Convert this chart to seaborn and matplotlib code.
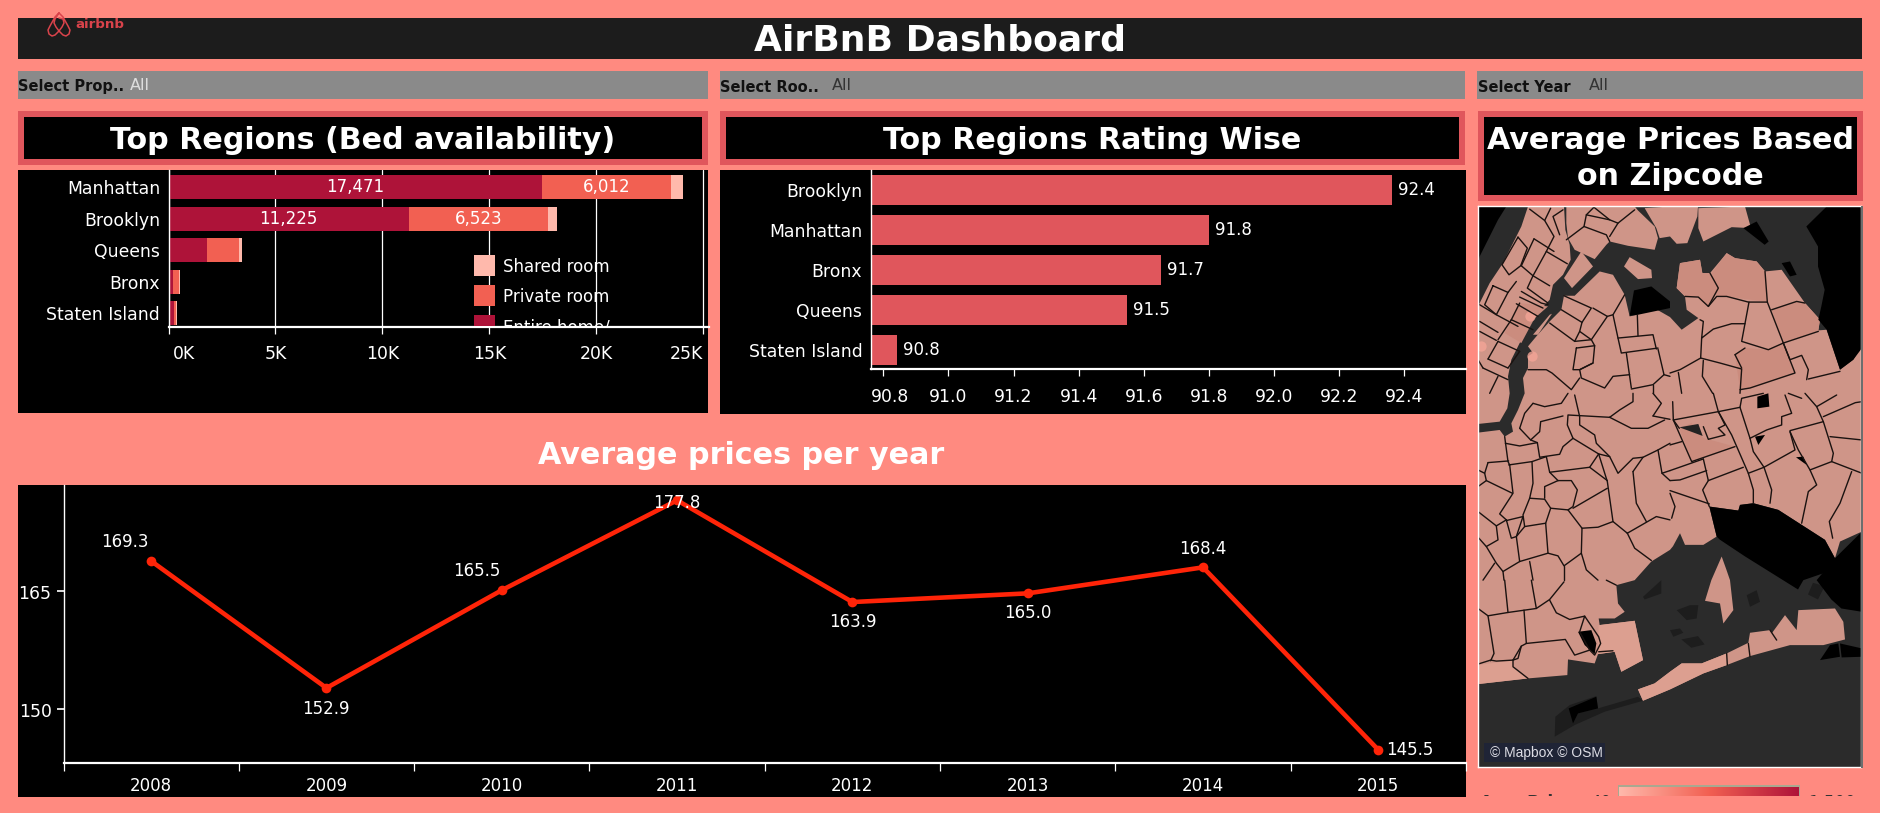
import numpy as np
import seaborn as sns
import matplotlib.pyplot as plt
from matplotlib.colors import LinearSegmentedColormap
from matplotlib.patches import Rectangle
from matplotlib.transforms import Bbox, ScaledTranslation

# chart data
regions_beds = ['Manhattan', 'Brooklyn', 'Queens', 'Bronx', 'Staten Island']
entire_home = [17471, 11225, 1800, 200, 260]
private_room = [6012, 6523, 1480, 310, 100]
shared_room = [550, 410, 150, 20, 15]
bed_ticks = [0, 5000, 10000, 15000, 20000, 25000]
bed_tick_labels = ['0K', '5K', '10K', '15K', '20K', '25K']

regions_rating = ['Brooklyn', 'Manhattan', 'Bronx', 'Queens', 'Staten Island']
rating = [92.362, 91.8, 91.653, 91.548, 90.842]
rating_ticks = [90.8, 91.0, 91.2, 91.4, 91.6, 91.8, 92.0, 92.2, 92.4]

years = [2008, 2009, 2010, 2011, 2012, 2013, 2014, 2015]
avg_price = [168.8, 152.7, 165.1, 176.5, 163.6, 164.7, 168.0, 144.85]
avg_price_labels = ['169.3', '152.9', '165.5', '177.8', '163.9', '165.0', '168.4', '145.5']
avg_price_offsets = [(-26, -19), (-1, 21), (-25, -19), (0, 3), (0, 20), (0, 20), (0, -18), (31, 0)]

# map shapes
map_land = [
    [(150, 0), (258, 0), (262, 70), (275, 115), (278, 160), (255, 205), (225, 235), (215, 280), (170, 330),
     (125, 410), (100, 460), (90, 510), (95, 561), (88, 606), (65, 646), (0, 653), (0, 300), (35, 230),
     (75, 170), (115, 90), (130, 60)],
    [(265, 0), (470, 0), (480, 12), (530, 60), (540, 95), (530, 130), (450, 118), (395, 105), (385, 115),
     (350, 158), (290, 130), (270, 95), (265, 50)],
    [(500, 5), (576, 0), (660, 0), (658, 30), (628, 110), (596, 112), (576, 90), (545, 95), (535, 65)],
    [(661, 5), (801, 0), (819, 65), (761, 62), (676, 105), (661, 65)],
    [(438, 180), (455, 152), (520, 190), (522, 215), (480, 218)],
    [(258, 215), (310, 135), (345, 180), (282, 245)],
    [(165, 385), (215, 325), (222, 322), (180, 385)],
    [(0, 679), (65, 671), (80, 691), (105, 676), (100, 651), (120, 611), (140, 561), (135, 515), (150, 485),
     (150, 450), (165, 440), (150, 420), (175, 390), (215, 345), (250, 310), (258, 268), (290, 268), (365, 195),
     (405, 205), (440, 265), (455, 330), (478, 325), (520, 300), (576, 332), (611, 370), (661, 335), (626, 310),
     (621, 270), (596, 245), (606, 170), (666, 160), (673, 200), (696, 200), (746, 140), (771, 155), (836, 165),
     (861, 195), (911, 190), (981, 290), (1026, 340), (1021, 372), (1046, 370), (1086, 490), (1126, 460),
     (1146, 425), (1152, 420), (1152, 976), (1086, 1006), (1071, 1056), (1041, 1001), (901, 911), (826, 891),
     (786, 896), (781, 913), (694, 901), (716, 991), (676, 1016), (621, 1016), (606, 981), (585, 1020),
     (576, 1031), (520, 1066), (470, 1122), (415, 1137), (420, 1192), (440, 1217), (410, 1237), (362, 1237),
     (365, 1257), (470, 1244), (495, 1362), (430, 1397), (410, 1337), (360, 1344), (350, 1372), (270, 1360),
     (268, 1407), (150, 1417), (0, 1434)],
    [(731, 1051), (745, 1090), (756, 1122), (766, 1212), (736, 1252), (726, 1192), (681, 1184), (700, 1122)],
    [(480, 1450), (530, 1432), (576, 1397), (611, 1372), (671, 1372), (746, 1342), (811, 1310), (816, 1280),
     (876, 1272), (896, 1302), (881, 1282), (921, 1227), (956, 1272), (961, 1212), (1071, 1207), (1096, 1247),
     (1101, 1300), (1036, 1317), (936, 1317), (816, 1350), (746, 1377), (676, 1402), (576, 1450), (495, 1484)],
]
map_dark_zips = [
    [(701, 200), (746, 140), (771, 155), (836, 165), (861, 195), (868, 287), (746, 270), (716, 270)],
    [(881, 310), (956, 285), (981, 290), (1026, 340), (1021, 372), (916, 410)],
    [(596, 245), (606, 170), (666, 160), (673, 200), (696, 200), (721, 245), (691, 300), (661, 272), (621, 270)],
    [(604, 666), (641, 650), (676, 695), (771, 721), (641, 766)],
    [(771, 445), (801, 425), (871, 430), (916, 410), (951, 500), (816, 545), (786, 550)],
    [(100, 340), (125, 290), (210, 300), (170, 335), (130, 410), (80, 380)],
]
map_light_zips = [
    [(0, 1377), (105, 1362), (105, 1382), (150, 1417), (0, 1434)],
    [(362, 1257), (470, 1244), (495, 1362), (430, 1397), (410, 1337), (360, 1344)],
    [(480, 1450), (530, 1432), (576, 1397), (611, 1372), (671, 1372), (746, 1342), (746, 1377), (676, 1402),
     (576, 1450), (495, 1484)],
]
map_black = [
    [(0, 0), (85, 0), (60, 40), (5, 150), (0, 170)],
    [(985, 60), (1046, 0), (1152, 0), (1152, 425), (1126, 460), (1086, 490), (1046, 370), (1021, 340), (1030, 300),
     (1040, 250), (1020, 180), (1020, 120)],
    [(694, 901), (781, 913), (786, 896), (826, 891), (901, 911), (1041, 1001), (1071, 1056), (1066, 1091),
     (976, 1122), (960, 1150), (880, 1100), (800, 1050), (725, 1000), (716, 991)],
    [(1071, 1056), (1152, 976), (1152, 1217), (1090, 1207), (1060, 1180), (1016, 1122)],
    [(1026, 1362), (1056, 1317), (1081, 1312), (1086, 1352)],
    [(1086, 1312), (1152, 1327), (1152, 1352), (1091, 1354)],
    [(455, 328), (468, 252), (520, 240), (576, 285), (576, 305), (480, 325)],
    [(796, 65), (836, 45), (872, 105), (860, 115)],
    [(911, 170), (936, 165), (956, 205), (936, 210)],
    [(838, 571), (871, 561), (874, 601), (838, 606)],
    [(831, 691), (861, 686), (841, 716)],
    [(954, 753), (976, 751), (986, 776)],
    [(272, 1507), (355, 1472), (360, 1507), (300, 1522), (285, 1552)],
    [(300, 1277), (340, 1272), (355, 1312), (350, 1344), (320, 1317)],
]
map_shadow = [
    [(230, 1592), (232, 1532), (275, 1497), (355, 1470), (360, 1507), (480, 1472), (495, 1484), (380, 1517), (290, 1557)],
    [(495, 1172), (550, 1122), (550, 1162), (500, 1180)],
    [(576, 1272), (606, 1267), (616, 1280), (586, 1292)],
    [(1005, 1130), (1040, 1140), (1020, 1180), (990, 1165)],
    [(596, 1212), (636, 1197), (661, 1197), (656, 1237), (626, 1242)],
    [(806, 1167), (836, 1152), (846, 1187), (816, 1202)],
    [(610, 1300), (660, 1290), (680, 1315), (640, 1325)],
]
map_grey_bits = [
    [(604, 663), (661, 653), (674, 689)],
]
map_hot_spots = [(155, 328), (10, 418), (162, 450)]

map_lines_nw = [
    [(155, 8), (200, 42), (228, 90), (205, 135), (268, 172)],
    [(200, 42), (218, 5)], [(245, 85), (225, 30), (255, 10)],
    [(120, 92), (148, 125), (128, 178), (93, 205), (72, 175), (120, 92)],
    [(168, 97), (228, 135)], [(168, 97), (130, 178)], [(130, 178), (165, 208), (215, 238)],
    [(205, 135), (165, 208), (148, 245), (210, 290)],
    [(45, 238), (90, 258), (55, 325), (20, 295), (45, 238)],
    [(5, 295), (55, 325), (120, 360)],
    [(130, 255), (190, 290), (210, 295)], [(125, 272), (195, 305)], [(115, 292), (180, 330)],
    [(100, 340), (165, 370)], [(100, 340), (125, 290)], [(60, 400), (100, 340)],
    [(5, 345), (60, 378)], [(5, 375), (55, 402)], [(60, 405), (125, 435)], [(30, 458), (60, 405)],
    [(30, 458), (90, 485)], [(90, 485), (125, 435)], [(15, 485), (90, 520)], [(60, 510), (35, 561)],
    [(0, 460), (15, 485)], [(90, 258), (115, 225)],
    [(258, 268), (340, 305), (312, 348), (250, 310)], [(345, 305), (388, 330), (340, 400), (305, 375), (312, 348)],
    [(305, 375), (290, 405), (215, 350)],
    [(295, 425), (350, 418), (345, 470), (305, 490), (285, 490), (295, 425)],
    [(340, 400), (350, 418)], [(290, 405), (340, 400)],
    [(388, 330), (405, 325), (440, 265)], [(405, 325), (420, 395), (430, 440), (540, 425)],
    [(420, 395), (525, 385), (535, 428)], [(480, 388), (478, 325)], [(445, 440), (460, 545)],
    [(540, 428), (558, 505), (525, 535), (460, 548)], [(345, 470), (305, 490), (310, 515), (380, 545), (405, 510), (455, 505)],
    [(525, 535), (525, 561)], [(305, 515), (280, 550), (222, 500), (205, 490), (150, 490)], [(558, 505), (576, 510)],
    [(265, 100), (318, 60), (385, 85), (395, 105)], [(318, 60), (325, 25), (395, 40), (420, 50), (395, 90)],
    [(325, 25), (350, 0)], [(395, 40), (345, 0)], [(420, 50), (470, 10)],
]
map_lines_ne = [
    [(45, 270), (85, 272), (115, 300), (145, 245), (120, 200)],
    [(115, 300), (140, 270), (170, 270), (235, 287), (292, 287)], [(285, 195), (292, 287), (340, 410)],
    [(237, 287), (215, 405), (295, 430), (340, 410)], [(340, 410), (375, 500), (240, 545), (210, 550)],
    [(305, 310), (380, 285), (405, 290)], [(340, 410), (445, 375)],
    [(340, 410), (360, 460), (395, 447), (415, 490), (410, 520)], [(415, 518), (510, 495)],
    [(90, 340), (100, 345), (95, 395), (130, 368), (185, 352), (225, 352)],
    [(95, 395), (92, 455), (30, 490), (0, 500)], [(92, 455), (150, 470), (215, 488), (210, 561)],
    [(195, 445), (225, 425)], [(195, 445), (215, 485)], [(100, 462), (97, 510), (128, 561)], [(25, 498), (35, 561)],
]
map_lines_mw = [
    [(80, 130), (90, 205), (95, 215)],
    [(82, 150), (125, 158), (178, 148), (185, 192), (245, 183), (255, 160), (285, 135), (268, 95), (270, 65), (395, 72)],
    [(125, 105), (158, 140), (185, 115), (188, 85), (255, 68)], [(178, 148), (158, 140)],
    [(92, 215), (162, 205), (205, 190), (215, 237), (335, 222), (362, 182)], [(285, 135), (362, 182)], [(335, 222), (388, 262)],
    [(30, 208), (92, 203)], [(30, 208), (20, 240), (25, 262), (103, 300)], [(0, 230), (20, 240)], [(25, 262), (0, 280)],
    [(162, 205), (165, 270), (155, 315), (200, 318), (218, 345), (270, 350), (312, 405), (360, 402), (405, 385),
     (388, 265), (362, 182), (395, 190), (420, 240), (465, 195), (495, 192), (540, 170), (576, 150)],
    [(95, 215), (105, 300), (65, 362), (85, 380), (100, 435), (115, 430), (135, 370), (85, 382)],
    [(155, 315), (135, 365), (140, 400), (203, 390), (218, 345)], [(203, 390), (210, 480), (125, 505), (115, 430), (140, 400)],
    [(85, 380), (55, 398), (60, 440), (25, 460), (0, 432)], [(55, 398), (0, 355)], [(25, 460), (55, 510), (75, 535), (125, 505)],
    [(75, 535), (78, 561)], [(210, 480), (240, 488), (258, 518), (310, 480), (312, 405)], [(258, 518), (258, 561)],
    [(310, 480), (325, 530), (360, 561)], [(155, 505), (165, 561)],
    [(240, 262), (280, 262), (298, 290), (285, 340), (270, 350)], [(240, 262), (200, 280), (200, 315)], [(215, 237), (240, 262)],
    [(285, 345), (388, 285)], [(405, 385), (448, 420)], [(448, 420), (535, 370), (576, 380)], [(448, 420), (470, 465), (520, 502)],
    [(465, 235), (475, 330), (505, 385)], [(465, 235), (495, 192)], [(540, 170), (552, 240), (576, 232)], [(552, 240), (576, 262)],
    [(50, 510), (15, 561)], [(395, 72), (425, 50), (465, 25), (465, 0)], [(395, 72), (460, 105), (510, 105), (560, 80)],
    [(525, 68), (576, 78)], [(525, 0), (550, 30), (525, 68)], [(290, 5), (305, 70), (305, 95), (350, 125), (355, 150), (395, 190)],
    [(165, 30), (200, 40), (250, 30), (270, 0)], [(165, 30), (140, 60), (125, 105)],
]
map_lines_me = [
    [(8, 25), (10, 80), (65, 205)], [(0, 155), (35, 145)], [(65, 205), (195, 160)],
    [(28, 105), (10, 80)], [(10, 80), (145, 55), (210, 42), (240, 135), (290, 110), (335, 95), (335, 70), (365, 60), (345, 5)],
    [(145, 55), (165, 95), (145, 105), (165, 125), (115, 138), (100, 100)], [(210, 42), (215, 15), (280, 0)], [(145, 55), (130, 0)],
    [(145, 55), (185, 125), (235, 240), (250, 290), (250, 330)], [(240, 135), (250, 175), (282, 222), (305, 290), (300, 330)],
    [(282, 222), (235, 240)], [(282, 222), (375, 170), (360, 115)], [(360, 115), (385, 170), (420, 230), (440, 275), (415, 295), (395, 390)],
    [(420, 230), (485, 205), (490, 180), (460, 85), (360, 112)], [(460, 85), (440, 40), (405, 0)], [(460, 70), (556, 28), (576, 25)],
    [(440, 40), (500, 5)], [(480, 130), (576, 140)], [(485, 205), (576, 240)], [(545, 235), (510, 330), (478, 385), (488, 435)],
    [(100, 197), (115, 262), (220, 222)], [(100, 197), (0, 232)], [(110, 232), (30, 260), (0, 262)], [(115, 262), (98, 290), (118, 340)],
    [(0, 292), (118, 332)], [(0, 300), (15, 340), (5, 375)], [(355, 0), (395, 15)],
]
map_lines_sw = [
    [(0, 85), (30, 107), (90, 97), (175, 85), (215, 58), (258, 5)], [(80, 0), (90, 97)], [(160, 0), (175, 85)],
    [(30, 107), (48, 220), (38, 242)],
    [(0, 252), (38, 240), (55, 243), (105, 240), (130, 198), (145, 190), (262, 178), (290, 225), (335, 210), (305, 155),
     (320, 108), (275, 118), (235, 98), (215, 60)],
    [(138, 90), (145, 190)], [(105, 240), (105, 260), (150, 295)], [(130, 198), (120, 235), (105, 240)],
    [(320, 108), (362, 170), (368, 190), (350, 225), (335, 210)], [(362, 215), (405, 212)], [(385, 0), (415, 15)],
]
map_lines_se = [[(170, 220), (172, 255)], [(235, 190), (240, 230)], [(300, 150), (320, 180)]]

W, H = 1880, 813
BG = '#FF8A80'
RED = '#E0565C'
ENTIRE, PRIVATE, SHARED = '#AE1339', '#F26052', '#FFB9AC'
LINE_RED = '#FF2408'
LAND = '#CF9588'

sns.set_theme(style='white', rc={'xtick.bottom': True, 'ytick.left': True})
plt.rcParams['font.family'] = ['DejaVu Sans']
plt.rcParams['font.size'] = 12


def px_axes(fig, x0, y0, x1, y1, zorder=2):
    ax = fig.add_axes([x0 / W, 1 - y1 / H, (x1 - x0) / W, (y1 - y0) / H], zorder=zorder)
    ax.patch.set_alpha(0)
    return ax


def box(ax, x0, y0, x1, y1, color, **kw):
    ax.add_patch(Rectangle((x0, y0), x1 - x0, y1 - y0, fc=color, ec='none', **kw))


def clip_px(artist, x0, y0, x1, y1):
    artist.set_clip_on(True)
    artist.set_clip_box(Bbox.from_extents(x0, H - y1, x1, H - y0))


def white_axes(ax):
    for s in ['top', 'right']:
        ax.spines[s].set_visible(False)
    for s in ['left', 'bottom']:
        ax.spines[s].set_color('white')
        ax.spines[s].set_linewidth(1.0)
    ax.spines['bottom'].set_linewidth(1.6)
    ax.tick_params(colors='white', labelsize=12.4)
    ax.set_xlabel('')
    ax.set_ylabel('')


def nudge(label, dx=0, dy=0):
    label.set_transform(label.get_transform() + ScaledTranslation(dx / 100, dy / 100, plt.gcf().dpi_scale_trans))


fig = plt.figure(figsize=(W / 100, H / 100), dpi=100, facecolor=BG)

# dashboard furniture, in pixels
bg = px_axes(fig, 0, 0, W, H, zorder=0)
bg.set_xlim(0, W)
bg.set_ylim(H, 0)
bg.axis('off')

box(bg, 18, 18, 1862, 59, '#1C1C1C')
bg.text(940, 40.5, 'AirBnB Dashboard', color='white', fontsize=26, fontweight='bold', ha='center', va='center')

box(bg, 18, 71, 708, 99, '#8A8A8A')
box(bg, 720, 71, 1465, 99, '#8A8A8A')
box(bg, 1477, 71, 1863, 99, '#8A8A8A')
for x, s in [(18, 'Select Prop..'), (720, 'Select Roo..'), (1478, 'Select Year')]:
    bg.text(x, 87, s, color='#111111', fontsize=10.5, fontweight='bold', ha='left', va='center')
for x, c in [(130, '#DDDDDD'), (832, '#333333'), (1589, '#333333')]:
    bg.text(x, 85.5, 'All', color=c, fontsize=11.5, ha='left', va='center')

for x0, x1, y1, s, y_text in [(18, 708, 165, 'Top Regions (Bed availability)', 140.5),
                              (720, 1465, 165, 'Top Regions Rating Wise', 140.5),
                              (1478, 1863, 201, 'Average Prices Based\non Zipcode', 158.5)]:
    box(bg, x0, 111, x1, y1, RED)
    box(bg, x0 + 6, 117, x1 - 6, y1 - 6, 'black')
    bg.text((x0 + x1) / 2, y_text, s, color='white', fontsize=21.7, fontweight='bold', ha='center', va='center',
            linespacing=1.3)

box(bg, 18, 170, 708, 413, 'black')
box(bg, 720, 170, 1466, 414, 'black')
box(bg, 18, 485, 1466, 797, 'black')
bg.text(741, 455.5, 'Average prices per year', color='white', fontsize=21.7, fontweight='bold', ha='center', va='center')

# logo
belo_x = [59, 55, 50, 48, 49, 52, 55, 59, 63, 66, 69, 70, 68, 63, 59, 55, 54, 56, 59, 62, 64, 63, 59]
belo_y = [13, 17, 26, 30, 34, 36, 35, 31, 35, 36, 34, 30, 26, 17, 13, 19, 23, 27, 31, 27, 23, 19, 18]
bg.plot(belo_x, belo_y, color='#D9434B', lw=1.1)
bg.text(75, 24, 'airbnb', color='#D9434B', fontsize=9.6, fontweight='bold', ha='left', va='center')

# top regions by beds, stacked by overlaying running totals
ax = px_axes(fig, 168.5, 170, 709, 327)
totals = np.array(entire_home) + np.array(private_room) + np.array(shared_room)
runs = np.array(entire_home) + np.array(private_room)
sns.barplot(x=totals, y=regions_beds, color=SHARED, saturation=1, width=0.76, orient='h', ax=ax, linewidth=0)
sns.barplot(x=runs, y=regions_beds, color=PRIVATE, saturation=1, width=0.76, orient='h', ax=ax, linewidth=0)
sns.barplot(x=entire_home, y=regions_beds, color=ENTIRE, saturation=1, width=0.76, orient='h', ax=ax, linewidth=0)
ax.set_xlim(0, 25260)
ax.set_ylim(4.44, -0.54)
ax.set_xticks(bed_ticks, bed_tick_labels)
ax.grid(axis='x', color='white', lw=0.9)
ax.set_axisbelow(True)
white_axes(ax)
ax.tick_params(axis='x', length=5, width=0.9, pad=7.8)
ax.tick_params(axis='y', length=0, pad=6)
ticklabels = ax.get_xticklabels()
ticklabels[0].set_ha('left')
nudge(ticklabels[0], dx=4)
ticklabels[-1].set_ha('right')
for i, (e, p) in enumerate(zip(entire_home, private_room)):
    if e >= 6000:
        ax.text(e / 2, i, f'{e:,}', color='white', ha='center', va='center', fontsize=12)
    if p >= 6000:
        ax.text(e + p / 2, i, f'{p:,}', color='white', ha='center', va='center', fontsize=12)

# rating bars
ax = px_axes(fig, 870.6, 170, 1466, 369)
sns.barplot(x=rating, y=regions_rating, color=RED, saturation=1, width=0.75, orient='h', ax=ax, linewidth=0)
ax.set_xlim(90.761, 92.589)
ax.set_ylim(4.475, -0.5)
ax.set_xticks(rating_ticks, [f'{t:.1f}' for t in rating_ticks])
white_axes(ax)
ax.tick_params(axis='x', length=5, width=0.9, pad=8.5)
ax.tick_params(axis='y', length=0, pad=6)
nudge(ax.get_xticklabels()[0], dx=7)
ax.bar_label(ax.containers[0], labels=[f'{v:.1f}' for v in rating], padding=4.3, color='white', fontsize=12)

# price line
ax = px_axes(fig, 63.5, 485, 1466, 763)
sns.lineplot(x=years, y=avg_price, color=LINE_RED, lw=3.3, marker='o', markersize=7, markeredgewidth=0,
             errorbar=None, ax=ax, clip_on=False)
ax.set_xlim(2007.5, 2015.5)
ax.set_ylim(143.19, 178.44)
ax.set_yticks([150, 165], ['150', '165'])
ax.set_xticks(np.arange(2007.5, 2016), [])
ax.set_xticks(years, [str(y) for y in years], minor=True)
white_axes(ax)
ax.tick_params(axis='x', which='major', length=5.5, width=0.9)
ax.tick_params(axis='x', which='minor', length=0, pad=10, labelsize=12, colors='white')
ax.tick_params(axis='y', length=5, width=1.2, pad=3.6)
for lab in ax.get_yticklabels():
    nudge(lab, dy=-1)
for y, v, s, (dx, dy) in zip(years, avg_price, avg_price_labels, avg_price_offsets):
    ax.annotate(s, (y, v), xytext=(dx * 0.72, -dy * 0.72), textcoords='offset points', color='white',
                ha='center', va='center', fontsize=12, annotation_clip=False)

# zipcode map
ax = px_axes(fig, 1478, 206.5, 1861, 767)
ax.patch.set_alpha(1)
ax.set_facecolor('#2B2B2B')
for poly in map_shadow:
    ax.fill(*zip(*poly), color='#1D1D1D', lw=0)
for poly in map_land:
    ax.fill(*zip(*poly), color=LAND, lw=0)
for poly in map_dark_zips:
    ax.fill(*zip(*poly), color='#CB8C7E', lw=0)
for poly in map_light_zips:
    ax.fill(*zip(*poly), color='#DC9F90', lw=0)
for poly in map_black:
    ax.fill(*zip(*poly), color='black', lw=0)
for poly in map_grey_bits:
    ax.fill(*zip(*poly), color='#222222', lw=0)
ax.scatter(*zip(*map_hot_spots), s=55, color='#F4A596', lw=0, alpha=0.8)
for lines, dx, dy in [(map_lines_nw, 0, 0), (map_lines_ne, 576, 0), (map_lines_mw, 0, 561),
                      (map_lines_me, 576, 561), (map_lines_sw, 0, 1122), (map_lines_se, 576, 1122)]:
    for line in lines:
        xs, ys = zip(*line)
        ax.plot(np.array(xs) + dx, np.array(ys) + dy, color='#1A1210', lw=1.0)
ax.set_xlim(0, 1149)
ax.set_ylim(1683, 0)
ax.set_xticks([])
ax.set_yticks([])
for s in ax.spines.values():
    s.set_color('white')
    s.set_linewidth(1.0)
box(ax, 18, 1612, 380, 1667, '#1F2436')
ax.text(35, 1642, '© Mapbox © OSM', color='#DCDCE4', fontsize=10, family='Liberation Sans', ha='left', va='center')

# overlay for the chart legends, both cut off by their frames
top = px_axes(fig, 0, 0, W, H, zorder=5)
top.set_xlim(0, W)
top.set_ylim(H, 0)
top.axis('off')
box(top, 1861, 206, 1863, 768, '#6E6E6E')

box(top, 474, 255, 495, 276, SHARED)
box(top, 474, 285, 495, 306, PRIVATE)
box(top, 474, 315, 495, 326, ENTIRE)
for y, s in [(267, 'Shared room'), (297, 'Private room'), (327, 'Entire home/')]:
    t = top.text(503, y, s, color='white', fontsize=12, ha='left', va='center')
    clip_px(t, 0, 0, W, 326)

cmap = LinearSegmentedColormap.from_list('price', [SHARED, PRIVATE, ENTIRE])
box(top, 1618, 785, 1800, 797, '#A9A890')
top.imshow(np.linspace(0, 1, 256).reshape(1, -1), cmap=cmap, extent=(1619, 1799, 797, 787), aspect='auto', zorder=3)
top.set_xlim(0, W)
top.set_ylim(H, 0)
box(top, 1610, 796, 1810, 813, BG, zorder=4)
for x, s, ha, w in [(1480, 'Avg. Price', 'left', 'bold'), (1611, '40', 'right', 'normal'), (1808, '1,500', 'left', 'normal')]:
    t = top.text(x, 803, s, color='#333333', fontsize=12, ha=ha, va='center', fontweight=w)
    clip_px(t, 0, 0, W, 796)

fig.savefig('out.png', dpi=100, facecolor=BG)
